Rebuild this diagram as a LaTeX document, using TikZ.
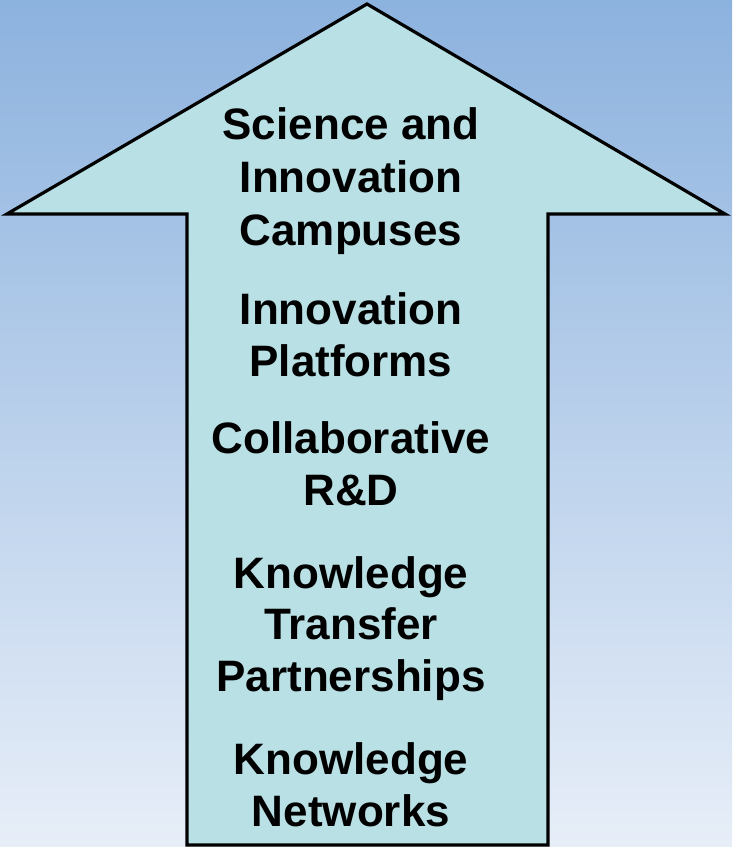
\documentclass[tikz,border=0pt]{standalone}
\usepackage{fontspec}
\setmainfont{Liberation Sans}
\definecolor{bgtop}{HTML}{8CB2DE}
\definecolor{bgbot}{HTML}{E7EEF8}
\definecolor{arrowfill}{HTML}{B9E0E4}
\begin{document}
\begin{tikzpicture}[x=1pt,y=1pt,
  lbl/.style={anchor=base,inner sep=0pt,font=\fontsize{44}{52}\selectfont\bfseries,text=black}]
\useasboundingbox (0,0) rectangle (732,847);
\shade[top color=bgtop,bottom color=bgbot] (0,0) rectangle (732,847);
\draw[line width=3.2pt,fill=arrowfill,line join=miter]
  (367,843) -- (725,633) -- (548,633) -- (548,2) -- (187,2) -- (187,633) -- (7,633) -- cycle;
\node[lbl] (l1) at (351,707) {Science and};
\node[lbl] (l2) at (351,654) {Innovation};
\node[lbl] (l3) at (351,601) {Campuses};
\node[lbl] (l4) at (351,522) {Innovation};
\node[lbl] (l5) at (351,470) {Platforms};
\node[lbl] (l6) at (351,393) {Collaborative};
\node[lbl] (l7) at (351,341) {R\&D};
\node[lbl] (l8) at (351,258) {Knowledge};
\node[lbl] (l9) at (351,207) {Transfer};
\node[lbl] (l10) at (351,155) {Partnerships};
\node[lbl] (l11) at (351,72) {Knowledge};
\node[lbl] (l12) at (351,20) {Networks};
\end{tikzpicture}
\end{document}
